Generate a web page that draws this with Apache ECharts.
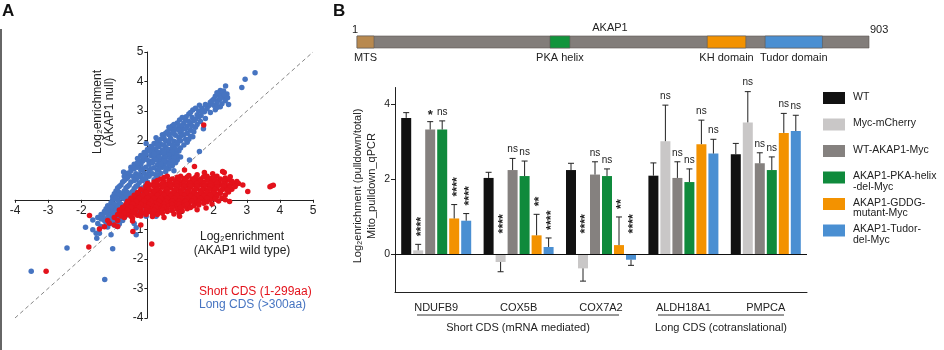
<!DOCTYPE html>
<html>
<head>
<meta charset="utf-8">
<script src="https://cdn.jsdelivr.net/npm/echarts@6/dist/echarts.min.js"></script>
<style>
  html, body { margin: 0; padding: 0; background: #fff; }
  #main { width: 944px; height: 350px; }
</style>
</head>
<body>
<div id="main"></div>
<script>
var myChart = echarts.init(document.getElementById('main'));
var FONT = "'Liberation Sans', Arial, sans-serif";

// ---- panel A : enrichment scatter ----
var longCds = [
  [3.25,4.3],[2.95,4.08],[2.85,3.8],[2.36,3.85],[2.2,3.7],[2.3,3.68],[2.25,3.6],[2.4,3.58],[2.15,3.55],[2.05,3.5],
  [2.3,3.48],[2.42,3.45],[2.0,3.4],[2.15,3.38],[2.35,3.35],[1.9,3.3],[2.1,3.28],[2.25,3.25],[2.45,3.22],[1.57,3.2],
  [1.85,3.18],[2.0,3.2],[2.2,3.15],[1.65,3.1],[1.8,3.08],[2.05,3.05],[1.37,3.04],[1.72,2.98],[1.55,3.0],[1.9,2.95],
  [1.25,2.9],[1.5,2.88],[1.62,2.85],[1.17,2.81],[1.35,2.78],[1.55,2.8],[1.75,2.75],[0.97,2.7],[1.15,2.7],[1.4,2.68],
  [1.6,2.65],[0.9,2.6],[1.1,2.6],[1.3,2.58],[1.5,2.55],[0.75,2.5],[0.95,2.5],[1.2,2.48],[1.45,2.45],[0.7,2.4],
  [0.85,2.4],[1.05,2.38],[1.3,2.35],[1.69,2.4],[0.6,2.3],[0.8,2.3],[1.0,2.28],[1.2,2.25],[1.4,2.3],[0.45,2.2],
  [0.65,2.2],[0.85,2.18],[1.1,2.2],[1.3,2.15],[0.26,2.1],[0.5,2.1],[0.7,2.08],[0.95,2.1],[1.15,2.05],[1.37,2.13],
  [0.3,2.0],[0.55,2.0],[0.8,1.98],[1.0,2.0],[1.2,1.95],[-0.04,1.9],[0.2,1.9],[0.4,1.88],[0.65,1.9],[0.9,1.88],
  [1.1,1.85],[0.1,1.8],[0.35,1.8],[0.55,1.78],[0.8,1.8],[1.0,1.75],[0.0,1.7],[0.25,1.7],[0.45,1.68],[0.7,1.7],
  [0.95,1.65],[-0.1,1.6],[0.15,1.6],[0.4,1.6],[0.6,1.58],[0.85,1.6],[1.57,1.63],[0.1,1.5],[-0.2,1.5],[0.3,1.5],
  [0.5,1.48],[0.75,1.5],[1.0,1.45],[-0.3,1.4],[-0.05,1.4],[0.2,1.4],[0.45,1.38],[0.7,1.4],[0.9,1.35],[-0.15,1.3],
  [0.1,1.3],[0.35,1.3],[0.6,1.28],[0.85,1.25],[1.27,1.35],[-0.4,1.2],[-0.2,1.2],[0.05,1.2],[0.3,1.18],[0.5,1.2],
  [0.75,1.15],[-0.5,1.1],[-0.3,1.1],[-0.05,1.1],[0.2,1.08],[0.45,1.1],[0.65,1.05],[-0.72,0.94],[-0.5,0.98],[-0.2,1.0],
  [0.05,0.98],[0.3,1.0],[0.55,0.95],[0.8,0.98],[-0.6,0.9],[-0.35,0.88],[-0.1,0.9],[0.15,0.88],[0.4,0.9],[-0.7,0.8],
  [-0.45,0.8],[-0.2,0.78],[0.05,0.8],[0.3,0.8],[-0.64,0.71],[-0.35,0.7],[-0.1,0.7],[0.2,0.68],[-0.75,0.6],[-0.5,0.6],
  [-0.25,0.58],[0.0,0.6],[-0.8,0.5],[-0.55,0.5],[-0.3,0.48],[-0.05,0.5],[-0.9,0.4],[-0.65,0.4],[-0.4,0.38],[-0.15,0.4],
  [-0.95,0.3],[-0.7,0.3],[-0.45,0.28],[-0.2,0.3],[-1.0,0.2],[-0.75,0.2],[-0.5,0.18],[-1.05,0.1],[-0.8,0.1],[-0.55,0.08],
  [-1.05,0.0],[-0.9,-0.02],[-0.65,0.0],[-1.1,-0.1],[-0.85,-0.1],[-0.6,-0.12],[-0.3,-0.1],[-1.2,-0.2],[-0.95,-0.2],[-0.7,-0.22],
  [-0.4,-0.2],[-0.1,-0.2],[-1.25,-0.3],[-1.0,-0.3],[-0.75,-0.32],[-0.5,-0.3],[-0.2,-0.3],[0.1,-0.3],[-1.3,-0.4],[-1.1,-0.4],
  [-0.85,-0.42],[-0.55,-0.4],[-0.3,-0.4],[-1.4,-0.5],[-1.15,-0.5],[-0.9,-0.52],[-0.6,-0.5],[-0.04,-0.56],[0.26,-0.56],[-1.5,-0.6],
  [-1.2,-0.6],[-0.95,-0.62],[-0.7,-0.6],[-1.65,-0.68],[-1.3,-0.7],[-1.0,-0.72],[-0.75,-0.7],[-1.5,-0.8],[-1.1,-0.8],[-0.85,-0.82],
  [-0.4,-0.8],[-1.87,-0.93],[-1.4,-0.9],[-1.2,-0.92],[-0.34,-0.95],[-0.9,-0.9],[-1.65,-1.01],[-1.55,-1.13],[-1.45,-1.13],[-1.1,-1.18],
  [-0.34,-1.18],[-1.53,-1.3],[-2.43,-1.63],[-1.05,-1.66],[-3.51,-2.42],[-1.29,-2.7],[1.17,0.07],[0.6,0.1],[1.2,0.3],[0.3,-0.4],
  [2.1,3.62],[2.32,3.55],[1.95,3.35],[2.2,3.42],[1.75,3.22],[2.1,3.12],[1.45,3.1],[1.65,3.0],[1.3,2.95],[1.45,2.72],
  [1.05,2.78],[1.25,2.65],[0.8,2.55],[1.05,2.52],[1.35,2.5],[0.65,2.45],[0.95,2.35],[1.15,2.4],[0.55,2.25],[0.75,2.25],
  [1.0,2.15],[1.25,2.05],[0.4,2.05],[0.65,2.0],[0.9,1.95],[0.3,1.85],[0.5,1.85],[0.75,1.85],[0.15,1.75],[0.6,1.72],
  [0.85,1.72],[0.05,1.65],[0.3,1.62],[0.5,1.6],[0.75,1.62],[-0.05,1.55],[0.2,1.55],[0.65,1.52],[0.9,1.5],[-0.15,1.45],
  [0.35,1.45],[0.55,1.42],[0.8,1.42],[-0.25,1.32],[0.0,1.35],[0.25,1.35],[0.5,1.32],[0.75,1.3],[-0.3,1.25],[0.15,1.25],
  [0.4,1.22],[0.65,1.2],[-0.4,1.05],[-0.15,1.05],[0.1,1.05],[0.35,1.05],[0.55,1.08],[-0.55,0.85],[-0.25,0.85],[0.0,0.85],
  [0.25,0.85],[-0.6,0.75],[-0.3,0.75],[-0.05,0.75],[-0.7,0.65],[-0.4,0.65],[-0.15,0.65],[-0.85,0.45],[-0.6,0.45],[-0.35,0.45],
  [-0.85,0.25],[-0.6,0.25],[-0.9,0.15],[-0.65,0.15],[-0.95,0.05],[-0.75,0.05],[-1.0,-0.15],[-0.8,-0.15],[-1.1,-0.25],[-0.9,-0.25],
  [-1.2,-0.35],[-0.95,-0.35],[-1.25,-0.45],[-1.0,-0.45],[-1.35,-0.55],[-1.05,-0.55],[-1.4,-0.65],[-1.1,-0.65],[-0.85,-0.68],[-1.25,-0.78],
  [-1.0,-0.85]
];
var shortCds = [
  [1.7,2.53],[1.42,1.13],[1.12,1.01],[2.27,0.96],[2.32,0.92],[1.72,0.92],[1.97,0.88],[1.5,0.85],
  [0.6,0.8],[1.0,0.8],[1.25,0.82],[1.8,0.8],[2.1,0.8],[2.5,0.78],
  [0.4,0.7],[0.75,0.7],[1.1,0.72],[1.35,0.7],[1.6,0.7],[1.9,0.72],[2.2,0.7],[2.45,0.68],[2.7,0.62],
  [0.2,0.6],[0.5,0.6],[0.85,0.62],[1.05,0.6],[1.25,0.6],[1.5,0.62],[1.7,0.6],[1.95,0.6],[2.15,0.62],[2.35,0.58],[2.6,0.55],
  [0.1,0.5],[0.35,0.5],[0.6,0.52],[0.8,0.5],[1.0,0.5],[1.2,0.48],[1.4,0.5],[1.6,0.52],[1.8,0.5],[2.0,0.48],[2.2,0.5],[2.4,0.46],[2.88,0.5],[3.74,0.47],[3.8,0.49],[3.7,0.44],
  [0.0,0.4],[0.25,0.4],[0.45,0.42],[0.7,0.4],[0.9,0.4],[1.1,0.4],[1.3,0.42],[1.5,0.4],[1.7,0.38],[1.9,0.4],[2.1,0.4],[2.3,0.38],[2.55,0.36],
  [-0.1,0.3],[0.15,0.3],[0.35,0.32],[0.55,0.3],[0.8,0.3],[1.0,0.3],[1.2,0.28],[1.4,0.3],[1.6,0.3],[1.8,0.32],[2.0,0.3],[2.2,0.28],[2.45,0.26],[3.03,0.28],
  [-0.25,0.2],[0.0,0.2],[0.25,0.2],[0.45,0.22],[0.7,0.2],[0.9,0.2],[1.1,0.2],[1.3,0.2],[1.5,0.18],[1.7,0.2],[1.9,0.2],[2.1,0.18],[2.35,0.16],
  [-0.35,0.1],[-0.1,0.1],[0.15,0.1],[0.35,0.1],[0.6,0.12],[0.8,0.1],[1.0,0.1],[1.2,0.1],[1.4,0.08],[1.6,0.1],[1.8,0.1],[2.0,0.08],[2.25,0.06],
  [-0.45,0.0],[-0.2,0.0],[0.05,0.0],[0.3,0.0],[0.5,0.02],[0.7,0.0],[0.9,0.0],[1.1,-0.02],[1.3,0.0],[1.5,0.0],[1.7,-0.02],[1.9,0.0],[2.15,-0.04],[2.48,-0.06],
  [-0.55,-0.1],[-0.3,-0.1],[-0.05,-0.1],[0.2,-0.1],[0.45,-0.1],[0.65,-0.12],[0.85,-0.1],[1.05,-0.1],[1.25,-0.12],[1.45,-0.1],[1.7,-0.12],[1.95,-0.14],
  [-0.6,-0.2],[-0.35,-0.2],[-0.1,-0.2],[0.15,-0.2],[0.4,-0.2],[0.6,-0.22],[0.85,-0.2],[1.1,-0.22],[1.4,-0.2],[1.77,-0.28],
  [-0.7,-0.3],[-0.45,-0.3],[-0.2,-0.3],[0.1,-0.32],[0.35,-0.3],[0.6,-0.3],[0.9,-0.32],[1.2,-0.3],[1.5,-0.34],
  [-0.8,-0.4],[-0.5,-0.4],[-0.2,-0.42],[0.05,-0.4],[0.3,-0.42],[0.6,-0.4],[0.95,-0.44],
  [-0.9,-0.5],[-0.6,-0.5],[-0.3,-0.52],[-0.04,-0.5],[0.3,-0.5],[0.97,-0.56],
  [-1.0,-0.6],[-0.7,-0.6],[-0.45,-0.62],[0.5,-0.6],[-1.75,-0.53],
  [-1.2,-0.7],[-0.45,-0.72],[-0.9,-0.7],[-1.15,-0.79],[-0.2,-0.85],[-1.0,-0.85],[-1.3,-0.91],[-0.9,-0.9],
  [-1.45,-0.99],[-0.44,-1.07],[0.13,-1.5],[-1.77,-1.6],[-3.06,-2.42],
  [0.5,0.75],[0.9,0.76],[1.2,0.77],[1.45,0.75],[1.7,0.78],[2.0,0.76],[2.35,0.74],
  [0.3,0.65],[0.65,0.66],[0.95,0.65],[1.15,0.66],[1.4,0.65],[1.6,0.64],[1.8,0.66],[2.05,0.65],[2.3,0.66],[2.55,0.63],
  [0.0,0.55],[0.25,0.56],[0.45,0.55],[0.7,0.55],[0.9,0.56],[1.1,0.55],[1.3,0.55],[1.5,0.56],[1.7,0.55],[1.9,0.55],[2.1,0.56],[2.3,0.54],[2.5,0.52],[2.75,0.55],
  [-0.05,0.45],[0.2,0.46],[0.5,0.45],[0.7,0.46],[0.9,0.45],[1.1,0.45],[1.3,0.46],[1.5,0.45],[1.7,0.45],[1.9,0.46],[2.1,0.44],[2.3,0.45],[2.5,0.42],[2.65,0.45],
  [-0.2,0.35],[0.05,0.35],[0.3,0.36],[0.6,0.35],[0.85,0.35],[1.05,0.36],[1.25,0.35],[1.45,0.35],[1.65,0.35],[1.85,0.36],[2.05,0.35],[2.25,0.34],[2.4,0.32],
  [-0.3,0.25],[-0.05,0.25],[0.2,0.26],[0.4,0.25],[0.6,0.25],[0.8,0.24],[1.0,0.25],[1.2,0.25],[1.4,0.24],[1.6,0.25],[1.8,0.25],[2.0,0.24],[2.2,0.22],
  [-0.4,0.15],[-0.15,0.15],[0.1,0.15],[0.3,0.16],[0.5,0.15],[0.7,0.14],[0.9,0.15],[1.1,0.15],[1.3,0.14],[1.5,0.15],[1.7,0.14],[1.9,0.15],[2.1,0.12],
  [-0.5,0.05],[-0.25,0.05],[0.0,0.06],[0.2,0.05],[0.4,0.05],[0.6,0.04],[0.8,0.05],[1.0,0.05],[1.2,0.04],[1.4,0.05],[1.6,0.04],[1.8,0.05],[2.05,0.02],[2.35,0.0],
  [-0.6,-0.05],[-0.35,-0.05],[-0.1,-0.04],[0.1,-0.05],[0.35,-0.05],[0.55,-0.06],[0.75,-0.05],[0.95,-0.05],[1.15,-0.06],[1.35,-0.05],[1.55,-0.06],[1.8,-0.07],
  [-0.65,-0.15],[-0.45,-0.15],[-0.2,-0.15],[0.05,-0.15],[0.3,-0.16],[0.5,-0.15],[0.75,-0.16],[0.95,-0.15],[1.2,-0.16],[1.55,-0.18],
  [-0.75,-0.25],[-0.5,-0.25],[-0.25,-0.25],[0.0,-0.26],[0.25,-0.25],[0.5,-0.25],[0.75,-0.27],[1.0,-0.26],[1.3,-0.26],
  [-0.85,-0.35],[-0.6,-0.35],[-0.35,-0.36],[-0.05,-0.35],[0.2,-0.36],[0.45,-0.35],[0.75,-0.37],[1.05,-0.38],
  [-0.7,-0.45],[-0.4,-0.46],[-0.1,-0.45],[0.15,-0.47],[0.45,-0.46],[0.8,-0.48],
  [-0.8,-0.55],[-0.5,-0.56],[-0.2,-0.55],[0.15,-0.57]
];
var diagonal = [[-4, -4], [5, 5]];

// ---- panel B : AKAP1 domains ----
var proteinLength = 903;
var domainNames = ['MTS', 'PKA helix', 'KH domain', 'Tudor domain'];
var domainStart = [1, 341, 618, 720];
var domainEnd = [31, 376, 686, 821];
var domainColors = { 'MTS': '#b8894f', 'PKA helix': '#12943c', 'KH domain': '#f39200', 'Tudor domain': '#4a8fd2' };

// ---- panel B : pulldown qPCR ----
var genes = ['NDUFB9', 'COX5B', 'COX7A2', 'ALDH18A1', 'PMPCA'];
var constructs = ['WT', 'Myc-mCherry', 'WT-AKAP1-Myc', 'AKAP1-PKA-helix\n-del-Myc', 'AKAP1-GDDG-\nmutant-Myc', 'AKAP1-Tudor-\ndel-Myc'];
var meanWT   = [3.64, 2.04, 2.25, 2.10, 2.67];
var errWT    = [0.14, 0.15, 0.18, 0.34, 0.29];
var meanMyc  = [0.11, -0.20, -0.37, 3.02, 3.52];
var errMyc   = [0.16, 0.26, 0.34, 0.96, 0.82];
var meanWTA  = [3.33, 2.25, 2.13, 2.04, 2.43];
var errWTA   = [0.21, 0.31, 0.34, 0.43, 0.28];
var meanPKA  = [3.33, 2.09, 2.09, 1.93, 2.25];
var errPKA   = [0.23, 0.40, 0.19, 0.35, 0.35];
var meanGDDG = [0.96, 0.51, 0.25, 2.94, 3.24];
var errGDDG  = [0.37, 0.56, 0.75, 0.64, 0.52];
var meanTud  = [0.90, 0.20, -0.14, 2.69, 3.29];
var errTud   = [0.19, 0.24, 0.15, 0.38, 0.42];
var sigWT   = ['', '', '', '', ''];
var sigMyc  = ['****', '****', '****', 'ns', 'ns'];
var sigWTA  = ['*', 'ns', 'ns', 'ns', 'ns'];
var sigPKA  = ['ns', 'ns', 'ns', 'ns', 'ns'];
var sigGDDG = ['****', '**', '**', 'ns', 'ns'];
var sigTud  = ['****', '****', '****', 'ns', 'ns'];

var barMeans = [meanWT, meanMyc, meanWTA, meanPKA, meanGDDG, meanTud];
var barErrs = [errWT, errMyc, errWTA, errPKA, errGDDG, errTud];
var barSigs = [sigWT, sigMyc, sigWTA, sigPKA, sigGDDG, sigTud];
var barColors = ['#111111', '#c9c7c7', '#85817f', '#0f8a3c', '#f39200', '#4a8fd2'];

var errData = [];
for (var k = 0; k < constructs.length; k++) {
    for (var c = 0; c < genes.length; c++) {
        errData.push([c, k, barMeans[k][c], barErrs[k][c]]);
    }
}
var domainData = [[1, proteinLength, -1]];
for (var d = 0; d < domainNames.length; d++) {
    domainData.push([domainStart[d], domainEnd[d], d]);
}

var series = [
    {
        type: 'line', xAxisIndex: 0, yAxisIndex: 0, data: diagonal, symbol: 'none', z: 1,
        lineStyle: { color: '#666', width: 0.8, type: [4, 3] }, silent: true
    },
    {
        type: 'scatter', name: 'Long CDS', xAxisIndex: 0, yAxisIndex: 0, data: longCds,
        symbolSize: 5.5, itemStyle: { color: '#4674c1', opacity: 1 }, z: 2
    },
    {
        type: 'scatter', name: 'Short CDS', xAxisIndex: 0, yAxisIndex: 0, data: shortCds,
        symbolSize: 5.5, itemStyle: { color: '#e3121b', opacity: 1 }, z: 3
    },
    {
        type: 'custom', xAxisIndex: 1, yAxisIndex: 1, data: domainData, silent: true,
        renderItem: function (params, api) {
            var p0 = api.coord([api.value(0), 0]);
            var p1 = api.coord([api.value(1), 1]);
            var idx = api.value(2);
            var name = idx >= 0 ? domainNames[idx] : null;
            var children = [{
                type: 'rect',
                shape: { x: p0[0], y: p1[1], width: p1[0] - p0[0], height: p0[1] - p1[1] },
                style: { fill: name ? domainColors[name] : '#827d7a', stroke: '#5e5956', lineWidth: 0.6 }
            }];
            if (name) {
                children.push({
                    type: 'text', x: (p0[0] + p1[0]) / 2, y: p0[1] + 10,
                    style: { text: name, font: '11px ' + FONT, fill: '#222', textAlign: 'center', textVerticalAlign: 'middle' }
                });
            }
            return { type: 'group', children: children };
        }
    }
];

constructs.forEach(function (name, k) {
    var s = {
        type: 'bar', name: name, xAxisIndex: 2, yAxisIndex: 2, data: barMeans[k],
        barWidth: 10, barGap: '20%', itemStyle: { color: barColors[k] }, silent: true
    };
    if (k === 0) {
        s.markLine = {
            silent: true, symbol: 'none', label: { show: false },
            lineStyle: { color: '#111', type: 'solid', width: 1 },
            data: [{ yAxis: 0 }]
        };
    }
    series.push(s);
});

series.push({
    type: 'custom', xAxisIndex: 2, yAxisIndex: 2, data: errData, z: 5, silent: true,
    encode: { x: 0, y: 2 },
    renderItem: function (params, api) {
        var cat = api.value(0), k = api.value(1), m = api.value(2), e = api.value(3);
        var dx = (k - 2.5) * 12;
        var base = api.coord([cat, m]);
        var tip = api.coord([cat, m >= 0 ? m + e : m - e]);
        var zero = api.coord([cat, 0]);
        var x = base[0] + dx;
        var children = [
            { type: 'line', shape: { x1: x, y1: base[1], x2: x, y2: tip[1] }, style: { stroke: '#222', lineWidth: 1 } },
            { type: 'line', shape: { x1: x - 3, y1: tip[1], x2: x + 3, y2: tip[1] }, style: { stroke: '#222', lineWidth: 1 } }
        ];
        var sig = barSigs[k][cat];
        if (sig) {
            if (sig.length > 1 && sig.charAt(0) === '*') {
                var y0 = m >= 0 ? tip[1] - 8 : zero[1] - 21;
                children.push({
                    type: 'text', x: x + 3, y: y0, rotation: Math.PI / 2,
                    style: { text: sig, font: 'bold 12.5px ' + FONT, fill: '#222', textAlign: 'left', textVerticalAlign: 'middle' }
                });
            } else {
                children.push({
                    type: 'text', x: x, y: tip[1] - (sig === '*' ? 6 : 9),
                    style: { text: sig, font: (sig === '*' ? 'bold 13px ' : '10px ') + FONT, fill: '#222', textAlign: 'center', textVerticalAlign: 'middle' }
                });
            }
        }
        return { type: 'group', children: children };
    }
});

// legend for panel B, drawn as graphic items from construct names and colours
var graphics = [
    { type: 'text', x: 2, y: 11, style: { text: 'A', font: 'bold 17px ' + FONT, fill: '#111', textVerticalAlign: 'middle' } },
    { type: 'text', x: 333, y: 11, style: { text: 'B', font: 'bold 17px ' + FONT, fill: '#111', textVerticalAlign: 'middle' } },
    { type: 'line', shape: { x1: 1, y1: 29, x2: 1, y2: 350 }, style: { stroke: '#333', lineWidth: 1.5 } },
    { type: 'text', x: 104, y: 112, rotation: Math.PI / 2,
      style: { text: 'Log₂enrichment\n(AKAP1 null)', font: '12px ' + FONT, fill: '#222', textAlign: 'center', textVerticalAlign: 'middle', lineHeight: 12 } },
    { type: 'text', x: 242, y: 244,
      style: { text: 'Log₂enrichment\n(AKAP1 wild type)', font: '12px ' + FONT, fill: '#222', textAlign: 'center', textVerticalAlign: 'middle', lineHeight: 14 } },
    { type: 'text', x: 199, y: 292, style: { text: 'Short CDS (1-299aa)', font: '12px ' + FONT, fill: '#e3121b', textVerticalAlign: 'middle' } },
    { type: 'text', x: 199, y: 305, style: { text: 'Long CDS (>300aa)', font: '12px ' + FONT, fill: '#4674c1', textVerticalAlign: 'middle' } },
    { type: 'text', x: 352, y: 30, style: { text: '1', font: '11px ' + FONT, fill: '#222', textVerticalAlign: 'middle' } },
    { type: 'text', x: 870, y: 30, style: { text: '903', font: '11px ' + FONT, fill: '#222', textVerticalAlign: 'middle' } },
    { type: 'text', x: 610, y: 28, style: { text: 'AKAP1', font: '11px ' + FONT, fill: '#222', textAlign: 'center', textVerticalAlign: 'middle' } },
    { type: 'text', x: 358, y: 186, rotation: Math.PI / 2,
      style: { text: 'Log₂enrichment (pulldown/total)', font: '11px ' + FONT, fill: '#222', textAlign: 'center', textVerticalAlign: 'middle' } },
    { type: 'text', x: 372, y: 186, rotation: Math.PI / 2,
      style: { text: 'Mito_pulldown_qPCR', font: '11px ' + FONT, fill: '#222', textAlign: 'center', textVerticalAlign: 'middle' } },
    { type: 'line', shape: { x1: 417, y1: 315, x2: 619, y2: 315 }, style: { stroke: '#333', lineWidth: 1 } },
    { type: 'line', shape: { x1: 658, y1: 315, x2: 784, y2: 315 }, style: { stroke: '#333', lineWidth: 1 } },
    { type: 'text', x: 518, y: 328, style: { text: 'Short CDS (mRNA mediated)', font: '11px ' + FONT, fill: '#222', textAlign: 'center', textVerticalAlign: 'middle' } },
    { type: 'text', x: 721, y: 328, style: { text: 'Long CDS (cotranslational)', font: '11px ' + FONT, fill: '#222', textAlign: 'center', textVerticalAlign: 'middle' } }
];
constructs.forEach(function (name, k) {
    var cy = 98 + k * 26.5;
    graphics.push({ type: 'rect', shape: { x: 823, y: cy - 6, width: 22, height: 12 }, style: { fill: barColors[k] } });
    graphics.push({ type: 'text', x: 853, y: cy - 6.5,
        style: { text: name, font: '10.5px ' + FONT, fill: '#222', textVerticalAlign: 'top', lineHeight: 10.7 } });
});

option = {
    backgroundColor: '#fff',
    animation: false,
    textStyle: { fontFamily: FONT },
    grid: [
        { left: 15, top: 52, width: 298, height: 266 },
        { left: 357, top: 36, width: 512, height: 12 },
        { left: 395, top: 87.5, width: 412, height: 204.5 }
    ],
    xAxis: [
        {
            // axis crosses at y = 0 (4 of 9 units above the bottom of the grid)
            gridIndex: 0, type: 'value', min: -4, max: 5, interval: 1, position: 'bottom', offset: -118.2,
            splitLine: { show: false },
            axisLine: { onZero: false, lineStyle: { color: '#222', width: 1 } },
            axisTick: { length: 3, lineStyle: { color: '#222' } },
            axisLabel: { color: '#222', fontSize: 12, margin: 5, showMinLabel: true, showMaxLabel: true }
        },
        { gridIndex: 1, type: 'value', min: 1, max: proteinLength, show: false },
        {
            gridIndex: 2, type: 'category', data: genes,
            axisLine: { onZero: false, lineStyle: { color: '#222', width: 1 } },
            axisTick: { alignWithLabel: true, length: 5, lineStyle: { color: '#222' } },
            axisLabel: { color: '#222', fontSize: 11, margin: 10 }
        }
    ],
    yAxis: [
        {
            // axis crosses at x = 0 (4 of 9 units right of the left edge)
            gridIndex: 0, type: 'value', min: -4, max: 5, interval: 1, position: 'left', offset: -132.4,
            splitLine: { show: false },
            axisLine: { onZero: false, lineStyle: { color: '#222', width: 1 } },
            axisTick: { length: 3, lineStyle: { color: '#222' } },
            axisLabel: { color: '#222', fontSize: 12, margin: 4, showMinLabel: true, showMaxLabel: true }
        },
        { gridIndex: 1, type: 'value', min: 0, max: 1, show: false },
        {
            gridIndex: 2, type: 'value', min: -1, max: 4.45,
            splitLine: { show: false },
            axisLine: { show: true, onZero: false, lineStyle: { color: '#222', width: 1 } },
            axisTick: { show: true, length: 4, customValues: [0, 2, 4], lineStyle: { color: '#222' } },
            axisLabel: { color: '#222', fontSize: 10.5, margin: 5, customValues: [0, 2, 4] }
        }
    ],
    graphic: graphics,
    series: series
};

myChart.setOption(option);
</script>
</body>
</html>
